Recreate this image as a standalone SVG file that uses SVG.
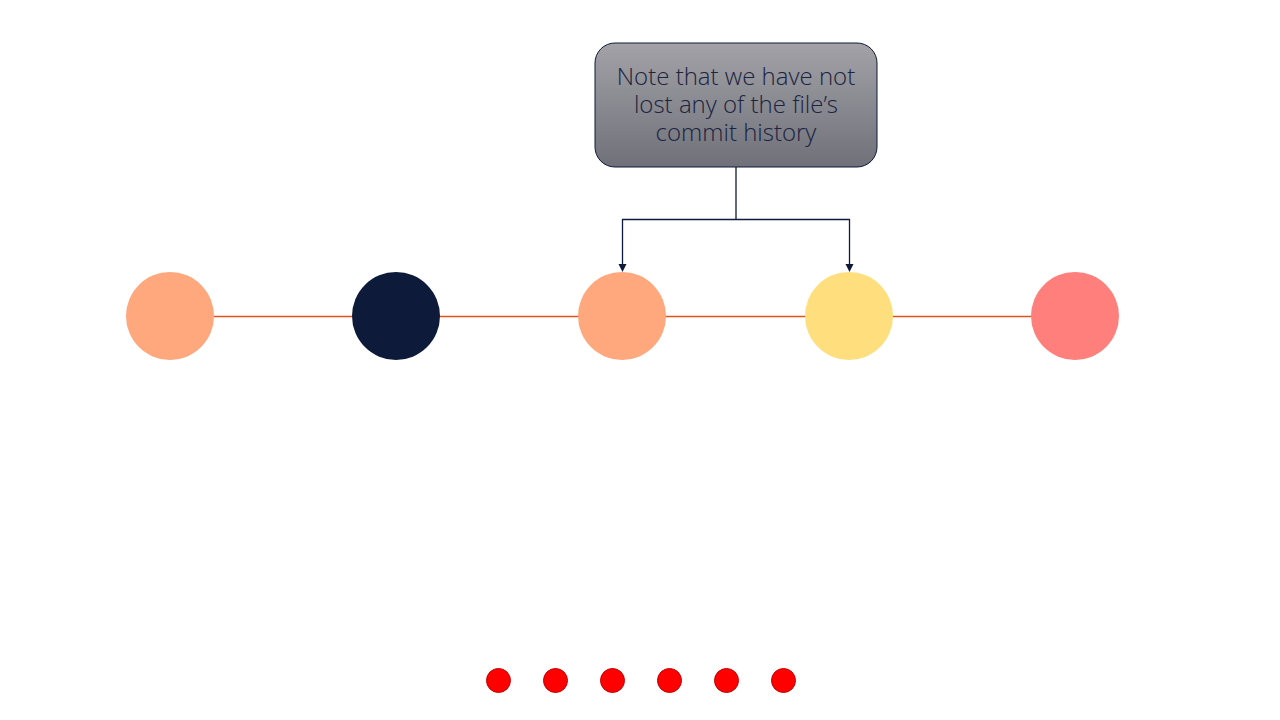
<svg xmlns="http://www.w3.org/2000/svg" width="1280" height="720" viewBox="0 0 1280 720">
<defs>
<linearGradient id="g" x1="0" y1="0" x2="0" y2="1">
<stop offset="0" stop-color="#a2a2a7"/>
<stop offset="1" stop-color="#70707a"/>
</linearGradient>
<style>
.t{font-family:"Open Sans","Noto Sans",sans-serif;font-weight:300;font-size:24px;fill:#1a2340;text-anchor:middle}
.dot{fill:#ff0000;stroke:#c00000;stroke-width:1}
.c{stroke:#0d1a3a;stroke-width:1.3;fill:none}
.ah{fill:#0d1a3a}
</style>
</defs>
<rect width="1280" height="720" fill="#fff"/>
<g id="connectors">
<line x1="214" y1="316.5" x2="1031" y2="316.5" stroke="#e0541b" stroke-width="1.3"/>
<path class="c" d="M736,167 V219.5"/>
<path class="c" d="M736,219.5 H622.5 V264"/>
<path class="c" d="M736,219.5 H849.5 V264"/>
<path class="ah" d="M618.5,264 L626.5,264 L622.5,272 z"/>
<path class="ah" d="M845.5,264 L853.5,264 L849.5,272 z"/>
</g>
<g id="note">
<rect x="595" y="43" width="282" height="124" rx="20" fill="url(#g)" stroke="#0d1a3a" stroke-width="1"/>
<text class="t" x="736" y="85">Note that we have not</text>
<text class="t" x="736" y="113">lost any of the file’s</text>
<text class="t" x="736" y="141">commit history</text>
</g>
<g id="c1"><circle cx="170" cy="316" r="44" fill="#ffa77d"/></g>
<g id="c2"><circle cx="396" cy="316" r="44" fill="#0d1a3a"/></g>
<g id="c3"><circle cx="622" cy="316" r="44" fill="#ffa77d"/></g>
<g id="c4"><circle cx="849" cy="316" r="44" fill="#ffdf7d"/></g>
<g id="c5"><circle cx="1075" cy="316" r="44" fill="#ff7f7d"/></g>
<g id="dots">
<circle class="dot" cx="498.5" cy="680.5" r="12"/>
<circle class="dot" cx="555.5" cy="680.5" r="12"/>
<circle class="dot" cx="612.5" cy="680.5" r="12"/>
<circle class="dot" cx="669.5" cy="680.5" r="12"/>
<circle class="dot" cx="726.5" cy="680.5" r="12"/>
<circle class="dot" cx="783.5" cy="680.5" r="12"/>
</g>
</svg>
